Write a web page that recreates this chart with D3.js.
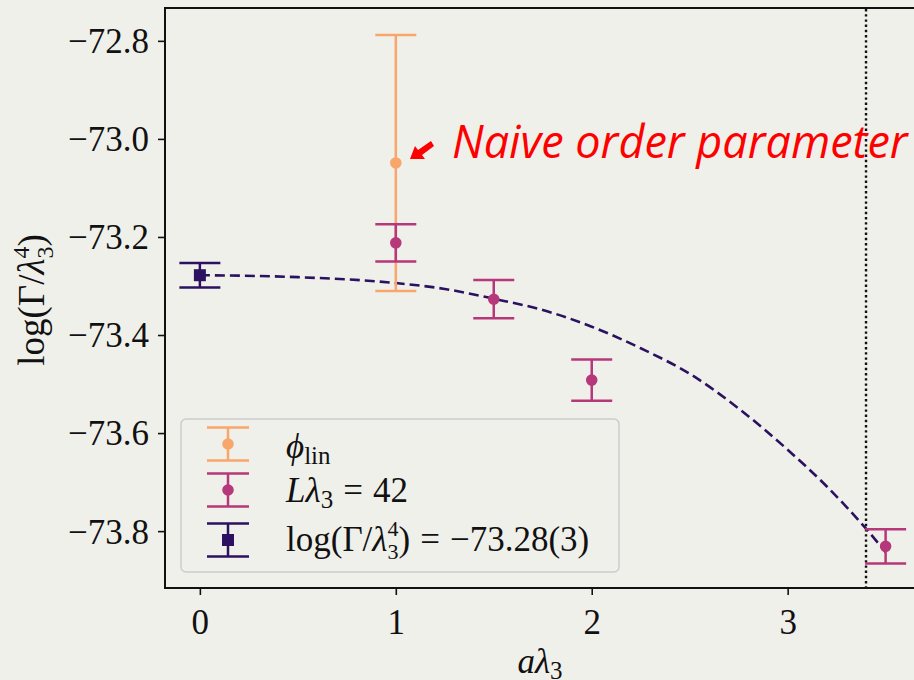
<!DOCTYPE html>
<html>
<head>
<meta charset="utf-8">
<script src="https://cdn.jsdelivr.net/npm/d3@7"></script>
<style>
  body { margin: 0; background: #f0f0eb; }
  svg { display: block; }
</style>
</head>
<body>
<script>
// data
var phiX = [1];
var phiY = [-73.049];
var phiErr = [0.261];

var latX = [1, 1.5, 2, 3.5];
var latY = [-73.212, -73.327, -73.492, -73.831];
var latErr = [0.038, 0.039, 0.042, 0.035];

var extX = [0];
var extY = [-73.278];
var extErr = [0.025];

var fitX = [0, 0.5, 1.0, 1.25, 1.5, 1.75, 2.0, 2.25, 2.5, 2.75, 3.0, 3.2, 3.4, 3.5];
var fitY = [-73.278, -73.282, -73.294, -73.306, -73.326, -73.349, -73.383, -73.427, -73.479, -73.550, -73.634, -73.709, -73.795, -73.843];

var cutX = 3.4;
var xTicks = [0, 1, 2, 3];
var yTicks = [-72.8, -73.0, -73.2, -73.4, -73.6, -73.8];

var cPhi = "#f8a66b", cLat = "#b6377a", cExt = "#2b1160";
var serif = "'Liberation Serif', serif";

var W = 914, H = 680;
var svg = d3.select("body").append("svg")
    .attr("width", W)
    .attr("height", H)
    .style("background", "#f0f0eb");

var x = d3.scaleLinear().domain([-0.178, 3.65]).range([165, 915]);
var y = d3.scaleLinear().domain([-73.916, -72.733]).range([588, 8]);

// axes
var xAxis = svg.append("g")
    .attr("transform", "translate(0,588)")
    .call(d3.axisBottom(x).tickValues(xTicks).tickSize(7).tickPadding(6).tickFormat(d3.format("d")));
var yAxis = svg.append("g")
    .attr("transform", "translate(165,0)")
    .call(d3.axisLeft(y).tickValues(yTicks).tickSize(7).tickPadding(9)
        .tickFormat(function(d) { return "\u2212" + Math.abs(d).toFixed(1); }));
[xAxis, yAxis].forEach(function(a) {
    a.attr("font-family", null);
    a.select(".domain").remove();
    a.selectAll(".tick line").attr("stroke", "#111").attr("stroke-width", 1.6);
    a.selectAll(".tick text")
        .attr("fill", "#111")
        .style("font-family", serif)
        .style("font-size", "35px");
});
xAxis.selectAll(".tick text").attr("dy", "0.93em");
yAxis.selectAll(".tick text").attr("dy", "0.34em");

// frame
svg.append("rect")
    .attr("x", 165).attr("y", 8)
    .attr("width", 750).attr("height", 580)
    .attr("fill", "none")
    .attr("stroke", "#111")
    .attr("stroke-width", 2);

// vertical dotted line
svg.append("line")
    .attr("x1", x(cutX)).attr("x2", x(cutX))
    .attr("y1", 9).attr("y2", 587)
    .attr("stroke", "#111")
    .attr("stroke-width", 2.4)
    .attr("stroke-dasharray", "2.4,2.8");

// fit curve
var fitLine = d3.line()
    .x(function(d) { return x(d[0]); })
    .y(function(d) { return y(d[1]); })
    .curve(d3.curveMonotoneX);
svg.append("path")
    .datum(d3.zip(fitX, fitY))
    .attr("d", fitLine)
    .attr("fill", "none")
    .attr("stroke", cExt)
    .attr("stroke-width", 2.6)
    .attr("stroke-dasharray", "10,5");

function errorbars(xs, ys, es, color, marker) {
    var g = svg.append("g");
    var data = d3.zip(xs, ys, es);
    var pts = g.selectAll("g").data(data).enter().append("g");
    pts.append("line")
        .attr("x1", function(d) { return x(d[0]); })
        .attr("x2", function(d) { return x(d[0]); })
        .attr("y1", function(d) { return y(d[1] + d[2]); })
        .attr("y2", function(d) { return y(d[1] - d[2]); })
        .attr("stroke", color).attr("stroke-width", 2.5);
    [1, -1].forEach(function(s) {
        pts.append("line")
            .attr("x1", function(d) { return x(d[0]) - 20.5; })
            .attr("x2", function(d) { return x(d[0]) + 20.5; })
            .attr("y1", function(d) { return y(d[1] + s * d[2]); })
            .attr("y2", function(d) { return y(d[1] + s * d[2]); })
            .attr("stroke", color).attr("stroke-width", 2.5);
    });
    pts.append("path")
        .attr("transform", function(d) { return "translate(" + x(d[0]) + "," + y(d[1]) + ")"; })
        .attr("d", d3.symbol().type(marker).size(marker === d3.symbolSquare ? 144 : 105))
        .attr("fill", color);
}

errorbars(phiX, phiY, phiErr, cPhi, d3.symbolCircle);
errorbars(latX, latY, latErr, cLat, d3.symbolCircle);
errorbars(extX, extY, extErr, cExt, d3.symbolSquare);

// annotation
svg.append("path")
    .attr("d", "M434,146 L422,155 L425,159 L410,159 L415,146 L418,150 L431,141 Z")
    .attr("fill", "#ff0000");
svg.append("text")
    .attr("x", 452).attr("y", 158)
    .attr("fill", "#ff0000")
    .style("font-family", "'Open Sans', sans-serif")
    .style("font-style", "italic")
    .style("font-size", "45px")
    .text("Naive order parameter");

// legend
var lg = svg.append("g");
lg.append("rect")
    .attr("x", 181).attr("y", 419)
    .attr("width", 438).attr("height", 153)
    .attr("rx", 5)
    .attr("fill", "#f0f0eb")
    .attr("fill-opacity", 0.8)
    .attr("stroke", "#cccccc")
    .attr("stroke-width", 1.5);

var legendRows = [
    { color: cPhi, marker: d3.symbolCircle, cy: 444 },
    { color: cLat, marker: d3.symbolCircle, cy: 490 },
    { color: cExt, marker: d3.symbolSquare, cy: 540 }
];
legendRows.forEach(function(r) {
    var g = lg.append("g").attr("transform", "translate(228," + r.cy + ")");
    g.append("line").attr("y1", -16.5).attr("y2", 16.5).attr("stroke", r.color).attr("stroke-width", 2.5);
    g.append("line").attr("x1", -21).attr("x2", 21).attr("y1", -16.5).attr("y2", -16.5).attr("stroke", r.color).attr("stroke-width", 2.5);
    g.append("line").attr("x1", -21).attr("x2", 21).attr("y1", 16.5).attr("y2", 16.5).attr("stroke", r.color).attr("stroke-width", 2.5);
    g.append("path")
        .attr("d", d3.symbol().type(r.marker).size(r.marker === d3.symbolSquare ? 144 : 105))
        .attr("fill", r.color);
});

function legendText(yy) {
    return lg.append("text").attr("x", 286).attr("y", yy)
        .style("font-family", serif).style("font-size", "35px").attr("fill", "#111");
}
var t1 = legendText(458);
t1.append("tspan").style("font-style", "italic").text("\u03d5");
t1.append("tspan").attr("dy", 6).style("font-size", "25px").text("lin");

var t2 = legendText(502);
t2.append("tspan").style("font-style", "italic").text("L\u03bb");
t2.append("tspan").attr("dy", 6).style("font-size", "25px").text("3");
t2.append("tspan").attr("dy", -6).attr("dx", 10).text("=");
t2.append("tspan").attr("dx", 10).text("42");

var t3 = legendText(551);
t3.append("tspan").text("log(\u0393/");
t3.append("tspan").style("font-style", "italic").text("\u03bb");
t3.append("tspan").attr("dy", -15).style("font-size", "22px").text("4");
t3.append("tspan").attr("dx", -11).attr("dy", 23).style("font-size", "22px").text("3");
t3.append("tspan").attr("dy", -8).text(")");
t3.append("tspan").attr("dx", 10).text("=");
t3.append("tspan").attr("dx", 10).text("\u221273.28(3)");

// x label
var xl = svg.append("text").attr("x", 540).attr("y", 673)
    .attr("text-anchor", "middle")
    .style("font-family", serif).style("font-size", "35px").attr("fill", "#111");
xl.append("tspan").style("font-style", "italic").text("a\u03bb");
xl.append("tspan").attr("dy", 6).style("font-size", "25px").text("3");

// y label
var yl = svg.append("text")
    .attr("transform", "translate(44,300) rotate(-90)")
    .attr("text-anchor", "middle")
    .style("font-family", serif).style("font-size", "37px").attr("fill", "#111");
yl.append("tspan").text("log(\u0393/");
yl.append("tspan").style("font-style", "italic").text("\u03bb");
yl.append("tspan").attr("dy", -15).style("font-size", "24px").text("4");
yl.append("tspan").attr("dx", -12).attr("dy", 24).style("font-size", "24px").text("3");
yl.append("tspan").attr("dy", -9).text(")");
</script>
</body>
</html>
